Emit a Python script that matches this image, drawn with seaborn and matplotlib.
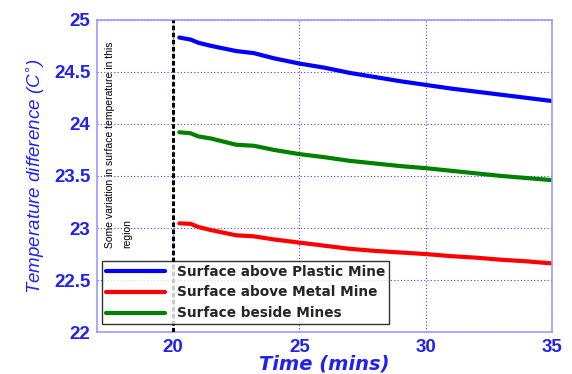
import matplotlib
matplotlib.use("Agg")
import matplotlib.pyplot as plt
import numpy as np
import pandas as pd
import seaborn as sns

times = [20.25, 20.7, 21.0, 21.5, 22.5, 23.2, 24.0, 25.0, 26.0, 27.0,
         28.0, 29.0, 30.0, 31.0, 32.0, 33.0, 34.0, 35.0]
plastic = [24.83, 24.81, 24.78, 24.75, 24.70, 24.68, 24.63, 24.58, 24.54, 24.49,
           24.45, 24.41, 24.375, 24.34, 24.31, 24.28, 24.25, 24.22]
metal = [23.045, 23.04, 23.01, 22.98, 22.93, 22.92, 22.89, 22.86, 22.83, 22.80,
         22.78, 22.765, 22.75, 22.73, 22.715, 22.695, 22.68, 22.66]
beside = [23.92, 23.91, 23.88, 23.86, 23.80, 23.79, 23.75, 23.71, 23.68, 23.645,
          23.62, 23.595, 23.575, 23.55, 23.525, 23.50, 23.48, 23.46]
labels = ["Surface above Plastic Mine", "Surface above Metal Mine", "Surface beside Mines"]
colors = ["#0000ff", "#ff0000", "#008000"]

df = pd.DataFrame({"time": times * 3,
                   "temp": plastic + metal + beside,
                   "series": [labels[0]] * len(times) + [labels[1]] * len(times) + [labels[2]] * len(times)})

sns.set_style("white")
plt.rcParams['font.family'] = ['Liberation Sans', 'DejaVu Sans']

fig = plt.figure(figsize=(5.72, 3.74), dpi=100)
ax = fig.add_axes([0.170, 0.112, 0.795, 0.835])

sns.lineplot(data=df, x="time", y="temp", hue="series", palette=colors,
             hue_order=labels, linewidth=3, ax=ax)

ax.set_xlim(17, 35)
ax.set_ylim(22, 25)
ax.set_xticks([20, 25, 30, 35])
ax.set_yticks([22, 22.5, 23, 23.5, 24, 24.5, 25])
ax.set_yticklabels(["22", "22.5", "23", "23.5", "24", "24.5", "25"])
ax.grid(True, color="#4444ff", linestyle=(0, (1, 2)), linewidth=0.8)
ax.set_axisbelow(True)
for s in ax.spines.values():
    s.set_color("#9999ff")
    s.set_linewidth(1.2)
ax.tick_params(colors="#2222ee", labelsize=13.5, length=3, direction="in", pad=5)
for t in ax.get_xticklabels() + ax.get_yticklabels():
    t.set_fontweight("bold")
    t.set_color("#2222ee")

ax.axvline(20, color="black", linestyle=(0, (1.5, 0.8)), linewidth=2.2, zorder=3)
ax.text(17.3, 24.79, "Some variation in surface temperature in this\nregion",
        rotation=90, ha="left", va="top", fontsize=7.5, color="black", linespacing=1.9)

ax.set_xlabel("Time (mins)", fontsize=14, fontweight="bold", fontstyle="italic",
              color="#2222ee", labelpad=-1, family="DejaVu Sans")
ax.set_ylabel("Temperature difference (C$^{\\circ}$)", fontsize=13.5, fontstyle="italic",
              color="#2222ee", labelpad=6)

leg = ax.legend(loc="lower left", bbox_to_anchor=(-0.004, 0.003), frameon=True,
                fancybox=False, edgecolor="black", handlelength=4.3,
                handletextpad=0.9, borderpad=0.3, labelspacing=0.5,
                prop={"family": "DejaVu Sans", "weight": "bold", "size": 9.8})
leg.get_frame().set_linewidth(1.0)
for h in leg.get_lines():
    h.set_linewidth(3)

fig.savefig("out.png", dpi=100)
